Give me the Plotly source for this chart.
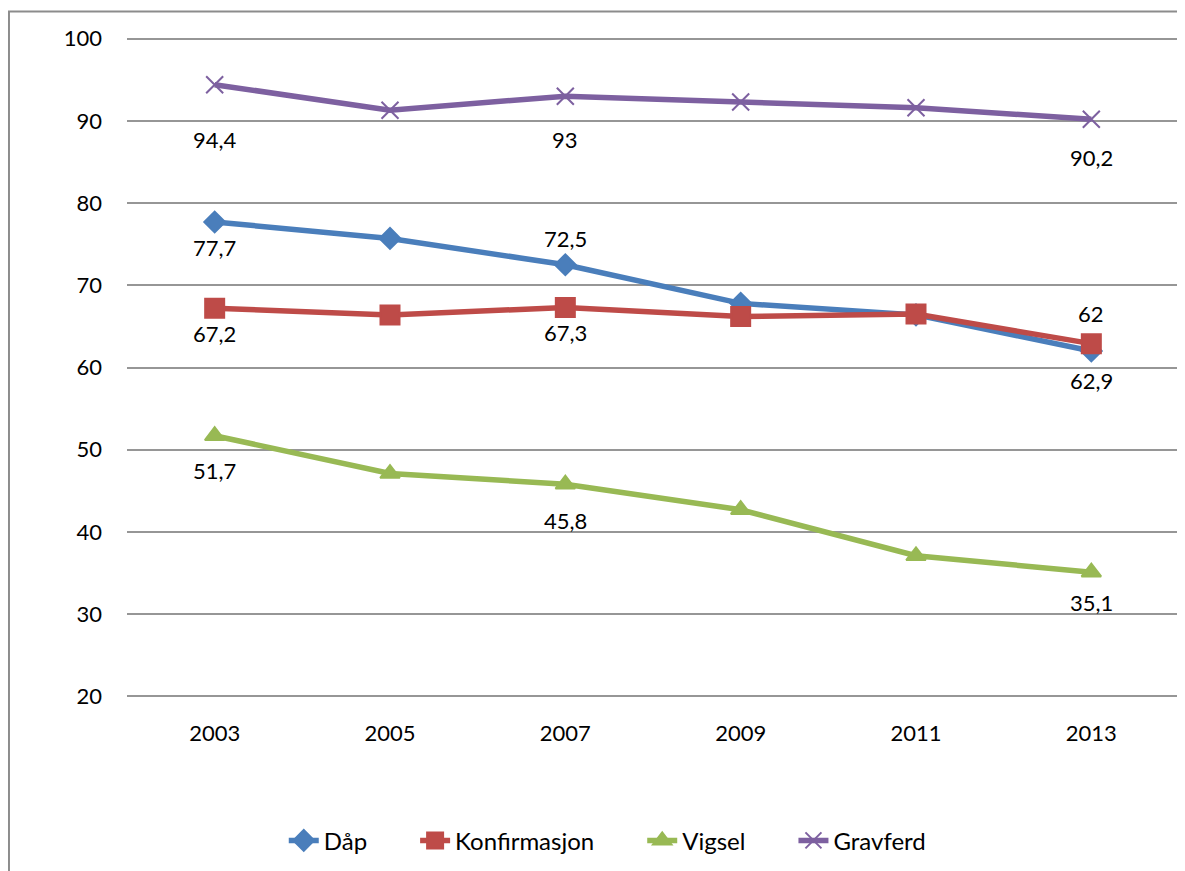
import plotly.graph_objects as go

years = ["2003", "2005", "2007", "2009", "2011", "2013"]
dap = [77.7, 75.7, 72.5, 67.8, 66.4, 62.0]
konf = [67.2, 66.4, 67.3, 66.2, 66.5, 62.9]
vigsel = [51.7, 47.1, 45.8, 42.7, 37.1, 35.1]
gravferd = [94.4, 91.3, 93.0, 92.3, 91.6, 90.2]

# which points carry a value label (index) and the label's vertical pixel offset
label_idx = {
    "Dåp": [(0, -26), (2, 26), (5, 38)],
    "Konfirmasjon": [(0, -25), (2, -25), (5, -37)],
    "Vigsel": [(0, -35), (2, -36), (5, -30)],
    "Gravferd": [(0, -55), (2, -43), (5, -38)],
}

series = [
    ("Dåp", dap, "#4A7EBB", "diamond", 16),
    ("Konfirmasjon", konf, "#BE4B48", "square", 19),
    ("Vigsel", vigsel, "#98B954", "triangle-up", 17),
    ("Gravferd", gravferd, "#7D60A0", "x-thin", 17),
]

FONT = "Lato, 'Open Sans', sans-serif"
FS = 22
PAD = "\u00a0" * 7  # spacing between legend entries

fig = go.Figure()
annotations = []
for k, (name, vals, color, sym, size) in enumerate(series):
    fig.add_trace(go.Scatter(
        x=years, y=vals, name=name + (PAD if k < len(series) - 1 else ""),
        mode="lines+markers",
        line=dict(color=color, width=5.5),
        marker=dict(symbol=sym, size=size, color=color,
                    line=dict(color=color, width=2)),
    ))
    for i, dy in label_idx[name]:
        annotations.append(dict(
            x=i, y=vals[i], xref="x", yref="y",
            text=f"{vals[i]:g}".replace(".", ","), showarrow=False,
            yshift=dy, font=dict(size=FS, color="black", family=FONT),
        ))

fig.update_layout(
    width=1185, height=871,
    margin=dict(l=119, r=14, t=29, b=181),
    paper_bgcolor="white", plot_bgcolor="white",
    font=dict(family=FONT, size=FS, color="black"),
    showlegend=True,
    legend=dict(orientation="h", x=0.457, xanchor="center", y=-0.216, yanchor="middle",
                font=dict(size=24), tracegroupgap=0),
    annotations=annotations,
    shapes=[dict(type="rect", xref="paper", yref="paper",
                 x0=-0.1122, x1=1.03, y0=-0.4, y1=1.0385,
                 line=dict(color="#8C8C8C", width=2), fillcolor="rgba(0,0,0,0)",
                 layer="below")],
)
fig.update_xaxes(type="category", range=[-0.5, 5.5], showgrid=False,
                 showline=False, ticks="", tickfont=dict(size=FS), ticklabelstandoff=20)
fig.update_yaxes(range=[19.8, 100.2], dtick=10, tick0=0, showgrid=True, gridcolor="#969696",
                 gridwidth=2, zeroline=False, showline=False, ticks="",
                 tickfont=dict(size=FS), ticklabelstandoff=24)

fig.write_html("out.html")
